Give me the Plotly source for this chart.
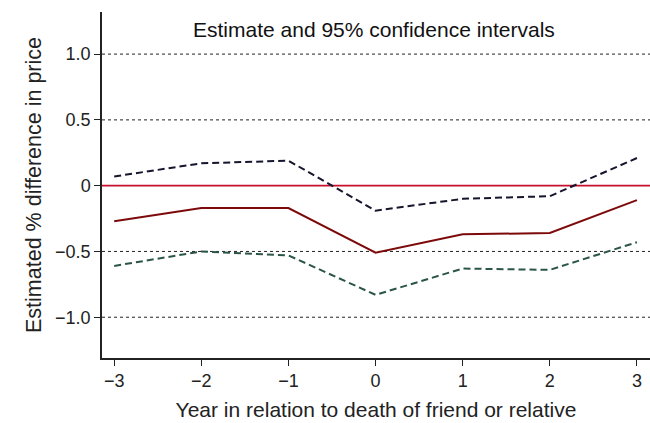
import plotly.graph_objects as go

years = [-3, -2, -1, 0, 1, 2, 3]
upper = [0.07, 0.17, 0.19, -0.19, -0.10, -0.08, 0.21]
estimate = [-0.27, -0.17, -0.17, -0.51, -0.37, -0.36, -0.11]
lower = [-0.61, -0.50, -0.53, -0.83, -0.63, -0.64, -0.43]
ytick_vals = [-1.0, -0.5, 0, 0.5, 1.0]
ytick_text = ["\u22121.0", "\u22120.5", "0", "0.5", "1.0"]
xtick_text = ["\u22123", "\u22122", "\u22121", "0", "1", "2", "3"]

FONT = "Liberation Sans, Arial, Helvetica, sans-serif"

fig = go.Figure()
for g in [-1.0, -0.5, 0.5, 1.0]:
    fig.add_shape(type="line", xref="paper", x0=0, x1=1, yref="y", y0=g, y1=g,
                  line=dict(color="#222222", width=1, dash="dot"), layer="below")
fig.add_shape(type="line", xref="paper", x0=0, x1=1, yref="y", y0=0, y1=0,
              line=dict(color="#c8102e", width=1.8), layer="below")

fig.add_trace(go.Scatter(x=years, y=upper, mode="lines",
                         line=dict(color="#15152e", width=2, dash="7px,4px")))
fig.add_trace(go.Scatter(x=years, y=estimate, mode="lines",
                         line=dict(color="#7d0a0a", width=2)))
fig.add_trace(go.Scatter(x=years, y=lower, mode="lines",
                         line=dict(color="#2a5548", width=2, dash="7px,4px")))

fig.add_annotation(text="Estimate and 95% confidence intervals", xref="paper", yref="paper",
                   x=0.497, y=0.948, xanchor="center", yanchor="middle", showarrow=False,
                   font=dict(size=21, color="#111111", family=FONT))

fig.update_layout(
    width=650, height=423,
    margin=dict(l=102, r=0, t=12, b=65),
    paper_bgcolor="white", plot_bgcolor="white",
    showlegend=False,
    font=dict(family=FONT, color="#222222"),
    xaxis=dict(range=[-3.14, 3.15], tickvals=years, ticktext=xtick_text,
               showgrid=False, zeroline=False, showline=True, linecolor="#222222", linewidth=1.5,
               ticks="outside", ticklen=6, tickcolor="#222222", tickfont=dict(size=18),
               title=dict(text="Year in relation to death of friend or relative", font=dict(size=21), standoff=12)),
    yaxis=dict(range=[-1.31, 1.32], tickvals=ytick_vals, ticktext=ytick_text,
               showgrid=False, zeroline=False, showline=True, linecolor="#222222", linewidth=1.5,
               ticks="outside", ticklen=6, tickcolor="#222222", tickfont=dict(size=18),
               title=dict(text="Estimated % difference in price", font=dict(size=21.5), standoff=8)),
)

fig.write_html("out.html", config={"displayModeBar": False},
               post_script="document.body.style.margin='0';document.body.style.padding='0';")
